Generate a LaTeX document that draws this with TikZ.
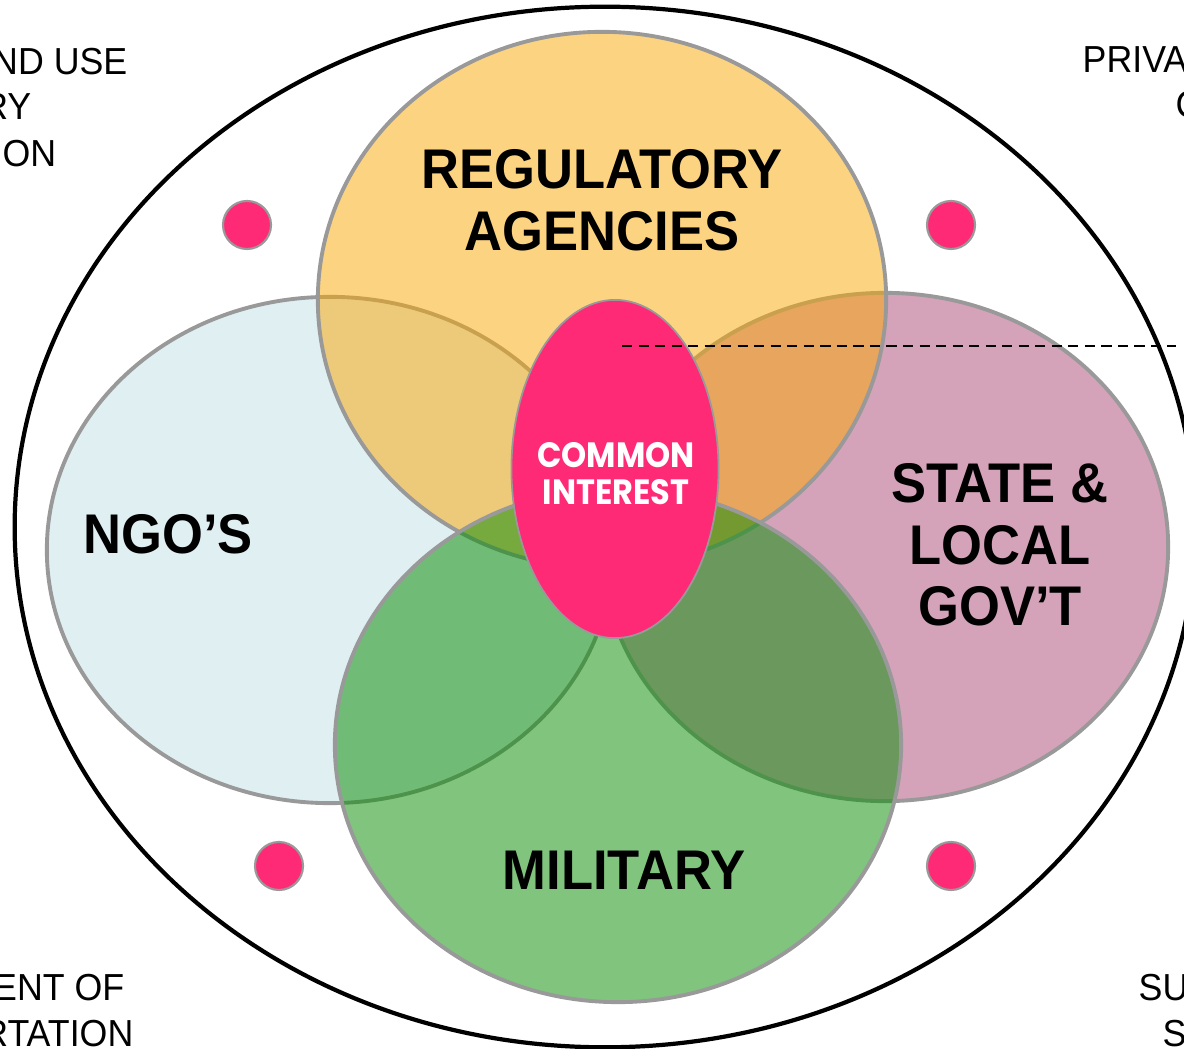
\documentclass[tikz,border=0pt]{standalone}
\usepackage{fontspec}
\setmainfont{Liberation Sans}[FakeStretch=0.95]
\newfontfamily\bigfont[FakeStretch=0.94]{Liberation Sans}
\newfontfamily\roundfont[FakeStretch=0.91]{Poppins}
\usetikzlibrary{shapes.geometric, positioning}

\definecolor{ngoblue}{HTML}{E0EFF2}
\definecolor{statepink}{HTML}{D5A3B9}
\definecolor{regyellow}{HTML}{F9A703}
\definecolor{milgreen}{HTML}{0B8E07}
\definecolor{hotpink}{HTML}{FE2A76}
\definecolor{rimgray}{HTML}{999999}

\begin{document}
\begin{tikzpicture}[x=0.01cm, y=-0.01cm,
  venn/.style={ellipse, draw=rimgray, line width=1.1pt, minimum width=5.66cm, minimum height=5.06cm, inner sep=0pt},
  big/.style={font=\bigfont\bfseries\fontsize{15.9}{17.5}\selectfont, align=center, text=black},
  side/.style={font=\fontsize{10.7}{12.8}\selectfont, inner sep=0pt},
  dot/.style={circle, fill=hotpink, draw=rimgray, line width=0.6pt, minimum size=0.48cm, inner sep=0pt}]
\useasboundingbox (0,0) rectangle (1184,1049);
\node[ellipse, draw=black, line width=1.2pt, minimum width=11.8cm, minimum height=10.4cm, inner sep=0pt] (region) at (605,527) {};

\node[venn, fill=ngoblue] (ngo) at (330,550) {};
\node[venn, fill=statepink, minimum height=5.08cm] (state) at (885,547) {};
\node[venn, fill=regyellow, fill opacity=0.5, minimum width=5.68cm, minimum height=5.36cm] (regulatory) at (602,300) {};
\node[venn, fill=milgreen, fill opacity=0.52, minimum height=5.14cm] (military) at (618,745) {};

\node[ellipse, fill=hotpink, draw=rimgray, line width=0.5pt, minimum width=2.07cm, minimum height=3.38cm, inner sep=0pt] (common) at (615,469) {};
\coordinate (dashstart) at (622,346);
\coordinate (dashend) at (1176,346);
\draw[line width=0.6pt, dash pattern=on 2.9pt off 1.8pt] (dashstart) -- (dashend);

\node[big] (reglabel) at (602,200) {REGULATORY\\AGENCIES};
\node[big] (ngolabel) at (168,534) {NGO’S};
\node[big] (statelabel) at (1000,545) {STATE \&\\LOCAL\\GOV’T};
\node[big] (millabel) at (624,870) {MILITARY};
\node[font=\roundfont\bfseries\fontsize{10}{10.5}\selectfont, text=white, align=center] (commonlabel) at (616,474) {COMMON\\INTEREST};

\node[dot] (dotnw) at (247,225) {};
\node[dot] (dotne) at (951,225) {};
\node[dot] (dotsw) at (279,866) {};
\node[dot] (dotse) at (951,866) {};

\node[side, anchor=base east] (nwa) at (128,75) {ND USE};
\node[side, anchor=base east] (nwb) at (32,120) {RY};
\node[side, anchor=base east] (nwc) at (57,167) {ON};
\node[side, anchor=base west] (nea) at (1082,73) {PRIVA};
\node[side, anchor=base west] (neb) at (1175,118) {C};
\node[side, anchor=base east] (swa) at (125,1001) {ENT OF};
\node[side, anchor=base east] (swb) at (134,1047) {RTATION};
\node[side, anchor=base west] (sea) at (1138,1001) {SU};
\node[side, anchor=base west] (seb) at (1162,1047) {S};
\end{tikzpicture}
\end{document}
